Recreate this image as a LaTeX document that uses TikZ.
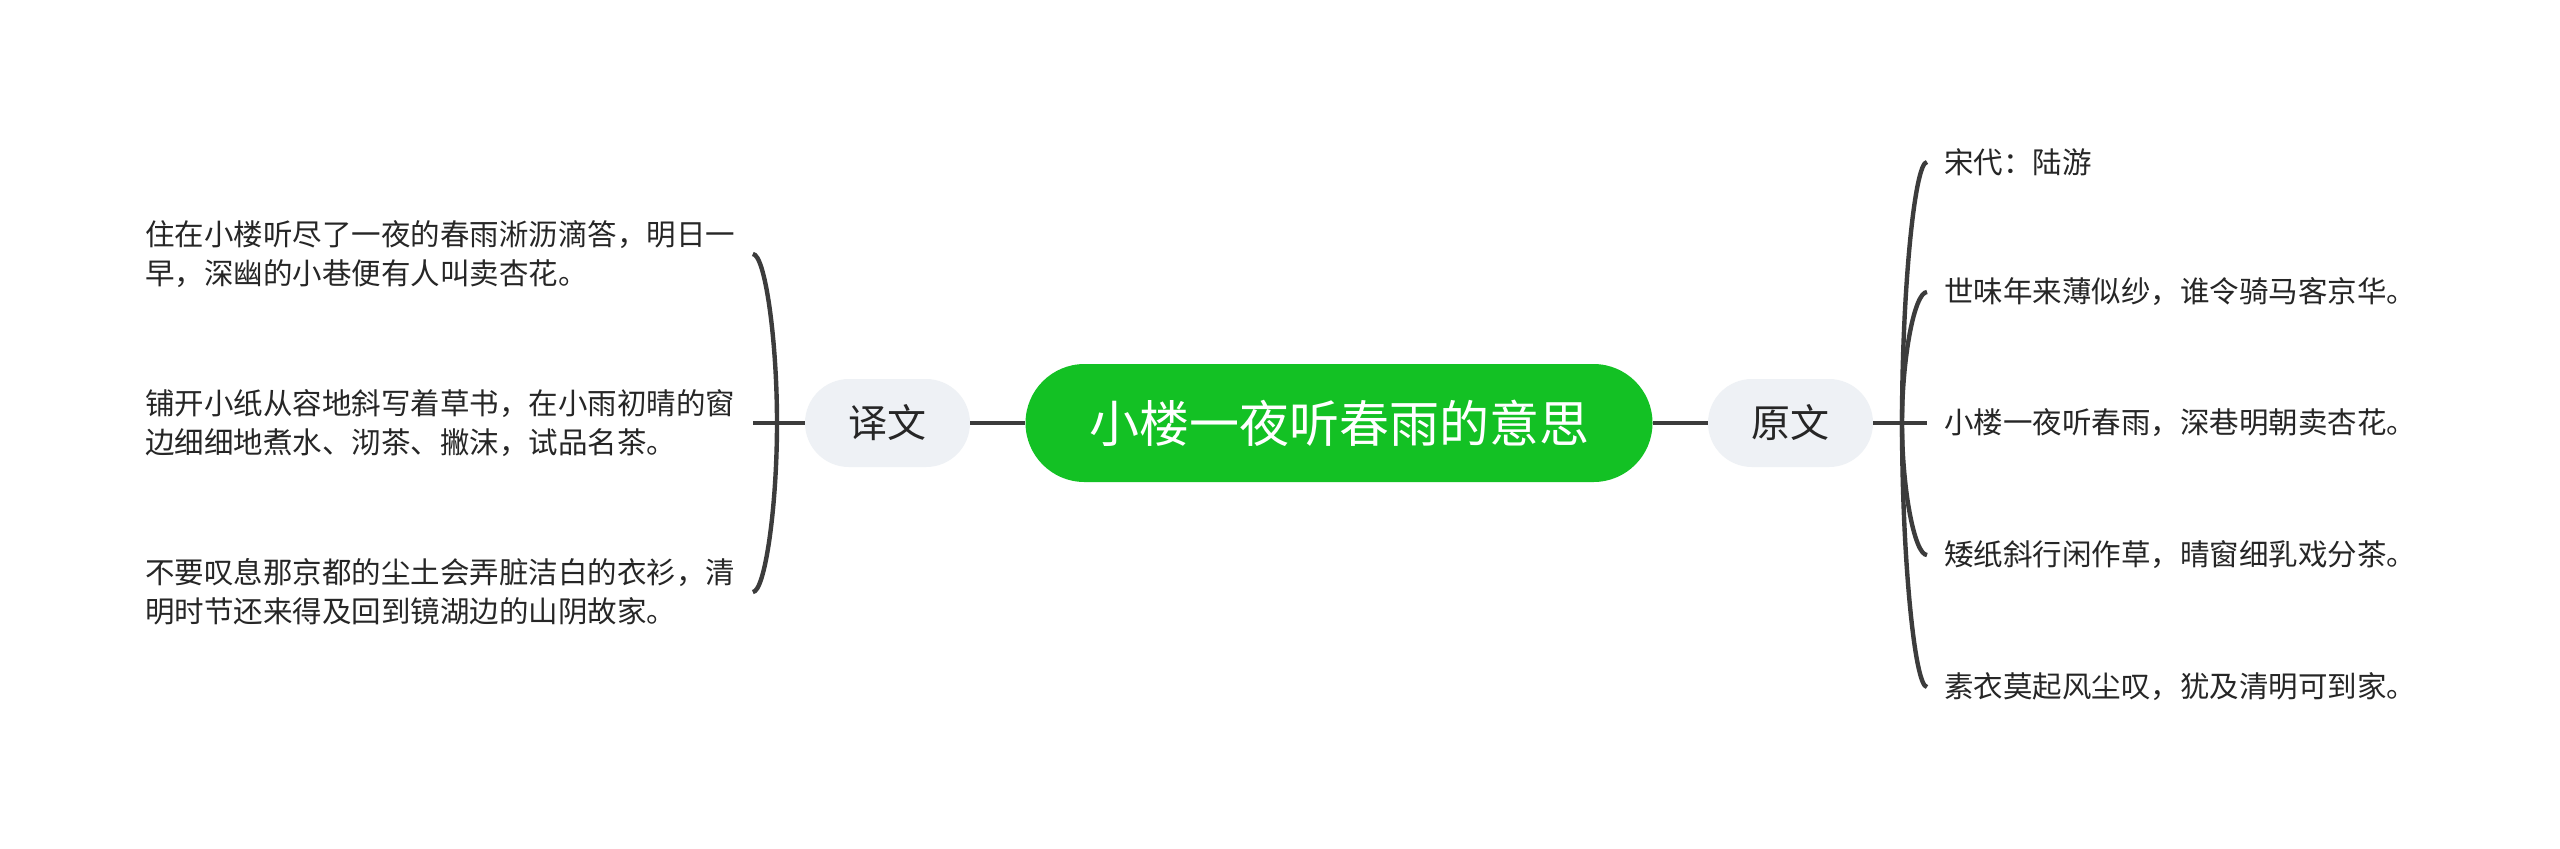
\documentclass[tikz,border=0pt]{standalone}
\usepackage{fontspec}
\usetikzlibrary{calc}
\setmainfont{Noto Sans CJK SC}
\definecolor{maingreen}{HTML}{13C124}
\definecolor{subfill}{HTML}{EEF1F5}
\definecolor{linecol}{HTML}{3C3C3C}
\definecolor{txtcol}{HTML}{262626}
\begin{document}
\begin{tikzpicture}[x=0.5pt,y=-0.5pt,
  conn/.style={draw=linecol,line width=2.2pt},
  centernode/.style={fill=maingreen,text=white,rounded corners=29.5pt,minimum width=313.5pt,minimum height=59pt,inner sep=0pt,font=\fontsize{25pt}{30pt}\selectfont},
  subnode/.style={fill=subfill,text=txtcol,rounded corners=22pt,minimum width=82.5pt,minimum height=44pt,inner sep=0pt,font=\fontsize{19.5pt}{23pt}\selectfont},
  leaf/.style={text=txtcol,inner sep=0pt,font=\fontsize{14.75pt}{19.5pt}\selectfont},
  leftleaf/.style={leaf,anchor=west,align=left}]
\useasboundingbox (0,0) rectangle (2560,848);
\fill[white] (0,0) rectangle (2560,848);

\node[centernode] (c) at (1339,423) {小楼一夜听春雨的意思};
\node[subnode] (yw) at (1790.5,423) {原文};
\node[subnode] (yi) at (887.5,423) {译文};

% right leaves
\node[leaf,anchor=west] (r1) at (1944,162) {宋代：陆游};
\node[leaf,anchor=west] (r2) at (1944,292) {世味年来薄似纱，谁令骑马客京华。};
\node[leaf,anchor=west] (r3) at (1944,423) {小楼一夜听春雨，深巷明朝卖杏花。};
\node[leaf,anchor=west] (r4) at (1944,555) {矮纸斜行闲作草，晴窗细乳戏分茶。};
\node[leaf,anchor=west] (r5) at (1944,687) {素衣莫起风尘叹，犹及清明可到家。};

% left leaves
\node[leftleaf] (l1) at (145,254) {住在小楼听尽了一夜的春雨淅沥滴答，明日一\\早，深幽的小巷便有人叫卖杏花。};
\node[leftleaf] (l2) at (145,423) {铺开小纸从容地斜写着草书，在小雨初晴的窗\\边细细地煮水、沏茶、撇沫，试品名茶。};
\node[leftleaf] (l3) at (145,592) {不要叹息那京都的尘土会弄脏洁白的衣衫，清\\明时节还来得及回到镜湖边的山阴故家。};

\coordinate (rt) at (1902,423);
\coordinate (lt) at (777,423);

\draw[conn] (c.east) -- (yw.west);
\draw[conn] (c.west) -- (yi.east);

% right branches
\draw[conn] (yw.east) -- (rt) -- ([xshift=-8.5pt]r3.west);
\foreach \n in {r1,r2,r4,r5}{
  \coordinate (e) at ([xshift=-8.5pt]\n.west);
  \coordinate (k) at (rt |- \n.west);
  \draw[conn] (rt) .. controls ($(rt)!0.5!(k)$) and ($(k)!0.5!(e)$) .. (e);
}

% left branches
\draw[conn] (yi.west) -- (lt) -- ([xshift=8.5pt]l2.east);
\foreach \n in {l1,l3}{
  \coordinate (e) at ([xshift=8.5pt]\n.east);
  \coordinate (k) at (lt |- \n.east);
  \draw[conn] (lt) .. controls ($(lt)!0.5!(k)$) and ($(k)!0.5!(e)$) .. (e);
}
\end{tikzpicture}
\end{document}
